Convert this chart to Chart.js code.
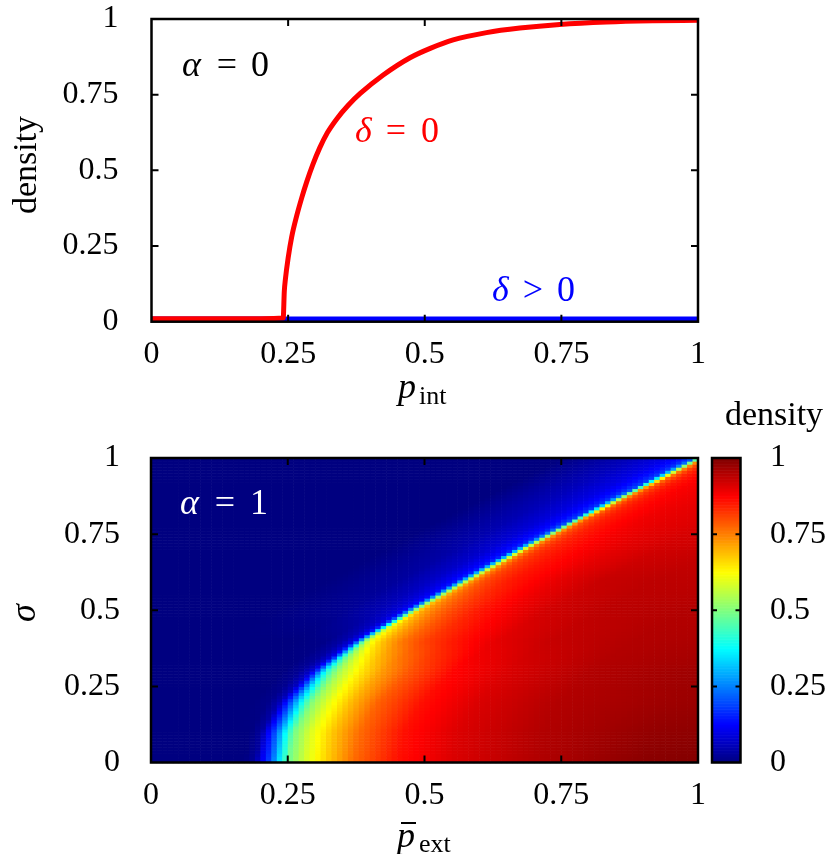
<!DOCTYPE html>
<html>
<head>
<meta charset="utf-8">
<script src="https://cdn.jsdelivr.net/npm/chart.js@4.4.1/dist/chart.umd.min.js"></script>
<style>
  html, body { margin: 0; padding: 0; background: #fff; }
  #wrap { position: relative; width: 838px; height: 854px; background: #fff; }
  .box { position: absolute; left: 0; width: 838px; }
</style>
</head>
<body>
<div id="wrap">
  <div class="box" style="top:0;height:420px"><canvas id="chartTop"></canvas></div>
  <div class="box" style="top:390px;height:464px"><canvas id="chartMap"></canvas></div>
</div>
<script>
/* =============================
   DATA
============================= */

const axisTicks = [0.25, 0.5, 0.75];

// top panel (alpha = 0): density vs p_int
const pInt = [0, 0.1, 0.2, 0.241, 0.243, 0.245, 0.25, 0.2565, 0.266, 0.275, 0.284, 0.295, 0.308, 0.322, 0.339, 0.36, 0.382, 0.424, 0.473, 0.51, 0.552, 0.613, 0.674, 0.747, 0.833, 0.918, 1.0];
const densityDelta0 = [0.01, 0.01, 0.01, 0.012, 0.1, 0.14, 0.21, 0.28, 0.352, 0.41, 0.462, 0.518, 0.575, 0.625, 0.67, 0.715, 0.754, 0.815, 0.872, 0.903, 0.931, 0.955, 0.97, 0.982, 0.99, 0.994, 0.996];
const pIntPos = [0, 1];
const densityDeltaPos = [0.009, 0.009];

// bottom panel (alpha = 1): density map over (p_ext, sigma)
const sigmaLevels = [0, 0.1, 0.2, 0.3, 0.4, 0.5, 0.6, 0.7, 0.8, 0.9, 1.0];
// p_ext where the density becomes non-zero, one per sigma level
const edgeP = [0.200, 0.211, 0.245, 0.300, 0.380, 0.475, 0.575, 0.675, 0.780, 0.890, 1.0];
// distance from that edge (p_ext - edge) at which the rows below are read
const edgeOffset = [-0.25, -0.12, -0.06, -0.03, -0.01, 0, 0.01, 0.02, 0.035, 0.05, 0.08, 0.12, 0.17, 0.25, 0.35, 0.5, 0.7, 0.85];
const densityRows = [
    [0, 0, 0, 0, 0.03, 0.10, 0.15, 0.22, 0.36, 0.48, 0.58, 0.67, 0.77, 0.86, 0.91, 0.95, 0.99, 1.00],   // sigma 0
    [0, 0, 0, 0, 0.03, 0.10, 0.16, 0.24, 0.38, 0.49, 0.59, 0.68, 0.77, 0.86, 0.91, 0.95, 0.98, 0.99],   // 0.1
    [0, 0, 0, 0.01, 0.05, 0.12, 0.20, 0.29, 0.42, 0.51, 0.60, 0.69, 0.78, 0.86, 0.91, 0.95, 0.97, 0.98], // 0.2
    [0, 0, 0, 0.02, 0.07, 0.15, 0.28, 0.40, 0.50, 0.56, 0.64, 0.72, 0.79, 0.87, 0.91, 0.95, 0.97, 0.97], // 0.3
    [0, 0, 0.01, 0.04, 0.10, 0.25, 0.50, 0.60, 0.66, 0.70, 0.76, 0.81, 0.85, 0.90, 0.93, 0.95, 0.96, 0.96], // 0.4
    [0, 0.02, 0.05, 0.08, 0.13, 0.35, 0.65, 0.71, 0.74, 0.77, 0.81, 0.85, 0.88, 0.92, 0.94, 0.95, 0.95, 0.95], // 0.5
    [0, 0.03, 0.07, 0.11, 0.16, 0.42, 0.70, 0.76, 0.80, 0.82, 0.85, 0.87, 0.90, 0.93, 0.94, 0.94, 0.94, 0.94], // 0.6
    [0, 0.04, 0.08, 0.12, 0.17, 0.45, 0.72, 0.78, 0.82, 0.84, 0.86, 0.88, 0.90, 0.92, 0.93, 0.93, 0.93, 0.93], // 0.7
    [0, 0.05, 0.09, 0.13, 0.18, 0.45, 0.73, 0.80, 0.83, 0.85, 0.87, 0.89, 0.90, 0.91, 0.91, 0.91, 0.91, 0.91], // 0.8
    [0, 0.06, 0.10, 0.14, 0.19, 0.45, 0.73, 0.80, 0.84, 0.86, 0.88, 0.89, 0.90, 0.90, 0.90, 0.90, 0.90, 0.90], // 0.9
    [0, 0.06, 0.10, 0.14, 0.19, 0.45, 0.73, 0.80, 0.84, 0.86, 0.88, 0.89, 0.90, 0.90, 0.90, 0.90, 0.90, 0.90]  // 1.0
];
const gridN = 100;

/* =============================
   HELPERS
============================= */

const SERIF = '"Liberation Serif", "Times New Roman", serif';

function jet(v) {
    const c = t => Math.round(255 * Math.max(0, Math.min(1, t)));
    return "rgb(" + c(1.5 - Math.abs(4 * v - 3)) + "," + c(1.5 - Math.abs(4 * v - 2)) + "," + c(1.5 - Math.abs(4 * v - 1)) + ")";
}

function lerpRow(xs, ys, x) {
    if (x <= xs[0]) return ys[0];
    for (let i = 1; i < xs.length; i++) {
        if (x <= xs[i]) {
            const t = (x - xs[i - 1]) / (xs[i] - xs[i - 1]);
            return ys[i - 1] + t * (ys[i] - ys[i - 1]);
        }
    }
    return ys[ys.length - 1];
}

function densityAt(p, s) {
    let k = 0;
    while (k < sigmaLevels.length - 2 && s > sigmaLevels[k + 1]) k++;
    const t = (s - sigmaLevels[k]) / (sigmaLevels[k + 1] - sigmaLevels[k]);
    const edge = edgeP[k] + t * (edgeP[k + 1] - edgeP[k]);
    const a = lerpRow(edgeOffset, densityRows[k], p - edge);
    const b = lerpRow(edgeOffset, densityRows[k + 1], p - edge);
    return a + t * (b - a);
}

function drawFrame(chart, xs, ys) {
    const { ctx, chartArea: a } = chart;
    ctx.save();
    ctx.strokeStyle = "#000";
    ctx.lineWidth = 2;
    axisTicks.forEach(v => {
        const x = xs.getPixelForValue(v);
        const y = ys.getPixelForValue(v);
        ctx.beginPath();
        ctx.moveTo(x, a.bottom); ctx.lineTo(x, a.bottom - 7);
        ctx.moveTo(x, a.top); ctx.lineTo(x, a.top + 7);
        ctx.moveTo(a.left, y); ctx.lineTo(a.left + 7, y);
        ctx.moveTo(a.right, y); ctx.lineTo(a.right - 7, y);
        ctx.stroke();
    });
    ctx.lineWidth = 2.5;
    ctx.strokeRect(a.left, a.top, a.right - a.left, a.bottom - a.top);
    ctx.restore();
}

function txt(ctx, s, x, y, font, color, align) {
    ctx.font = font;
    ctx.fillStyle = color || "#000";
    ctx.textAlign = align || "left";
    ctx.textBaseline = "alphabetic";
    ctx.fillText(s, x, y);
}

function rotTxt(ctx, s, x, y, font) {
    ctx.save();
    ctx.translate(x, y);
    ctx.rotate(-Math.PI / 2);
    txt(ctx, s, 0, 0, font, "#000", "center");
    ctx.restore();
}

// keep the layout from reserving label overflow: chart areas are placed by padding
function noPad(s) {
    s.paddingTop = 0; s.paddingBottom = 0; s.paddingLeft = 0; s.paddingRight = 0;
}

const tickFont = { family: SERIF, size: 32 };
const tickText = v => String(+v.toFixed(2));
const ITAL = "italic 36px " + SERIF;
const ROM = "36px " + SERIF;

/* =============================
   TOP PANEL – alpha = 0
============================= */

const topDecor = {
    id: "topDecor",
    afterDraw(chart) {
        const ctx = chart.ctx;
        drawFrame(chart, chart.scales.x, chart.scales.y);
        txt(ctx, "α", 182, 76, ITAL);
        txt(ctx, "=", 227, 76, ROM, "#000", "center");
        txt(ctx, "0", 251, 76, ROM);

        txt(ctx, "δ", 355, 142, ITAL, "#ff0000");
        txt(ctx, "=", 396, 142, ROM, "#ff0000", "center");
        txt(ctx, "0", 421, 142, ROM, "#ff0000");

        txt(ctx, "δ", 492, 301, ITAL, "#0000ff");
        txt(ctx, ">", 533, 301, ROM, "#0000ff", "center");
        txt(ctx, "0", 557, 301, ROM, "#0000ff");

        rotTxt(ctx, "density", 36, 165, "34px " + SERIF);
        txt(ctx, "p", 398, 398, ITAL);
        txt(ctx, "int", 419, 404, "26px " + SERIF);
    }
};

new Chart(document.getElementById("chartTop"), {
    type: "line",
    data: {
        datasets: [{
            label: "δ = 0",
            data: pInt.map((p, i) => ({ x: p, y: densityDelta0[i] })),
            borderColor: "#ff0000",
            borderWidth: 5,
            pointRadius: 0,
            cubicInterpolationMode: "monotone"
        }, {
            label: "δ > 0",
            data: pIntPos.map((p, i) => ({ x: p, y: densityDeltaPos[i] })),
            borderColor: "#0000ff",
            borderWidth: 5,
            pointRadius: 0
        }]
    },
    options: {
        responsive: true,
        maintainAspectRatio: false,
        animation: false,
        layout: { padding: { top: 19, right: 140, left: 0, bottom: 0 } },
        plugins: { legend: { display: false }, tooltip: { enabled: false } },
        scales: {
            x: {
                type: "linear", min: 0, max: 1,
                grid: { display: false, drawTicks: false },
                border: { display: false },
                ticks: { stepSize: 0.25, padding: 14, color: "#000", font: tickFont, maxRotation: 0, autoSkip: false, callback: tickText },
                afterFit: s => { noPad(s); s.height = 420 - 321.7; }
            },
            y: {
                min: 0, max: 1,
                grid: { display: false, drawTicks: false },
                border: { display: false },
                ticks: { stepSize: 0.25, padding: 33, color: "#000", font: tickFont, callback: tickText },
                afterFit: s => { noPad(s); s.width = 151.5; }
            }
        }
    },
    plugins: [topDecor]
});

/* =============================
   BOTTOM PANEL – alpha = 1 MAP
============================= */

const mapDecor = {
    id: "mapDecor",
    beforeDatasetsDraw(chart) {
        const { ctx, scales } = chart;
        const xs = scales.x, ys = scales.y, cb = scales.cb;
        ctx.save();
        for (let i = 0; i < gridN; i++) {
            const x0 = xs.getPixelForValue(i / gridN);
            const x1 = xs.getPixelForValue((i + 1) / gridN);
            for (let j = 0; j < gridN; j++) {
                const y0 = ys.getPixelForValue((j + 1) / gridN);
                const y1 = ys.getPixelForValue(j / gridN);
                ctx.fillStyle = jet(densityAt((i + 0.5) / gridN, (j + 0.5) / gridN));
                ctx.fillRect(x0, y0, x1 - x0 + 0.6, y1 - y0 + 0.6);
            }
        }
        // colour bar
        const bl = 712, br = 740.5;
        for (let k = 0; k < 200; k++) {
            const y0 = cb.getPixelForValue((k + 1) / 200);
            const y1 = cb.getPixelForValue(k / 200);
            ctx.fillStyle = jet((k + 0.5) / 200);
            ctx.fillRect(bl, y0, br - bl, y1 - y0 + 0.6);
        }
        ctx.restore();
    },
    afterDraw(chart) {
        const { ctx, scales } = chart;
        drawFrame(chart, scales.x, scales.y);
        const cb = scales.cb;
        const bl = 712, br = 740.5;
        ctx.save();
        ctx.strokeStyle = "#000";
        ctx.lineWidth = 2;
        axisTicks.forEach(v => {
            const y = cb.getPixelForValue(v);
            ctx.beginPath();
            ctx.moveTo(bl, y); ctx.lineTo(bl + 5, y);
            ctx.moveTo(br, y); ctx.lineTo(br - 5, y);
            ctx.stroke();
        });
        ctx.lineWidth = 2.5;
        ctx.strokeRect(bl, cb.top, br - bl, cb.bottom - cb.top);
        ctx.restore();

        txt(ctx, "α", 180, 124, ITAL, "#fff");
        txt(ctx, "=", 225, 124, ROM, "#fff", "center");
        txt(ctx, "1", 250, 124, ROM, "#fff");

        rotTxt(ctx, "σ", 35, 223, "italic 36px " + SERIF);
        txt(ctx, "p", 397, 457, ITAL);
        ctx.save();
        ctx.strokeStyle = "#000";
        ctx.lineWidth = 2;
        ctx.beginPath();
        ctx.moveTo(401, 433); ctx.lineTo(416, 433);
        ctx.stroke();
        ctx.restore();
        txt(ctx, "ext", 419, 462, "26px " + SERIF);
        txt(ctx, "density", 774, 35, "34px " + SERIF, "#000", "center");
    }
};

new Chart(document.getElementById("chartMap"), {
    type: "scatter",
    data: { datasets: [{ data: [], pointRadius: 0 }] },
    options: {
        responsive: true,
        maintainAspectRatio: false,
        animation: false,
        layout: { padding: { top: 68, right: 0, left: 0, bottom: 0 } },
        plugins: { legend: { display: false }, tooltip: { enabled: false } },
        scales: {
            x: {
                type: "linear", min: 0, max: 1,
                grid: { display: false, drawTicks: false },
                border: { display: false },
                ticks: { stepSize: 0.25, padding: 14, color: "#000", font: tickFont, maxRotation: 0, autoSkip: false, callback: tickText },
                afterFit: s => { noPad(s); s.height = 464 - 372.5; }
            },
            y: {
                min: 0, max: 1,
                grid: { display: false, drawTicks: false },
                border: { display: false },
                ticks: { stepSize: 0.25, padding: 31, color: "#000", font: tickFont, callback: tickText },
                afterFit: s => { noPad(s); s.width = 151; }
            },
            cb: {
                axis: "y", position: "right", min: 0, max: 1,
                grid: { display: false, drawTicks: false },
                border: { display: false },
                ticks: { stepSize: 0.25, padding: 72, color: "#000", font: tickFont, callback: tickText },
                afterFit: s => { noPad(s); s.width = 140; }
            }
        }
    },
    plugins: [mapDecor]
});
</script>
</body>
</html>
